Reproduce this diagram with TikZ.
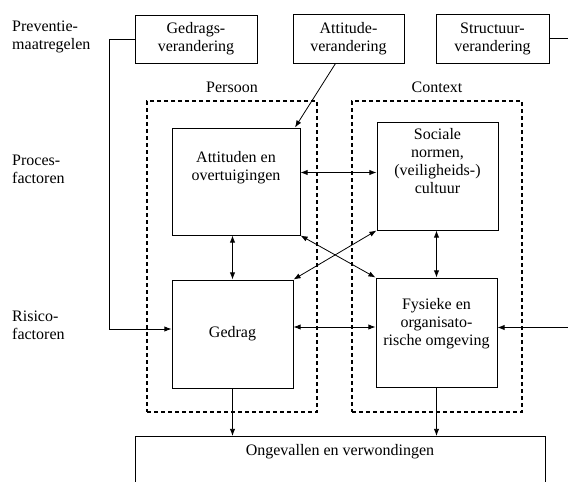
\documentclass[tikz,border=0pt]{standalone}
\usepackage{fontspec}
\setmainfont{Liberation Serif}
\usetikzlibrary{
    arrows.meta,
    positioning
}

\begin{document}
\begin{tikzpicture}[
        x=1pt,
        y=-1pt,
        font=\fontsize{16}{18}\selectfont,
        box/.style={
            rectangle,
            draw,
            line width=1pt,
            align=center,
            inner sep=2pt
        },
        group/.style={
            rectangle,
            draw,
            line width=1.1pt,
            dash pattern=on 4pt off 3pt
        },
        lbl/.style={
            align=left,
            anchor=north west,
            inner sep=0pt
        },
        line/.style={
            -{Latex[length=2.5mm]},
            line width=0.8pt
        },
        dline/.style={
            {Latex[length=2.5mm]}-{Latex[length=2.5mm]},
            line width=0.8pt
        }
    ]

    \clip (0,0) rectangle (568,482);

    % row labels
    \node[lbl] (preventie) at (12,21) {Preventie-\\maatregelen};
    \node[lbl] (proces) at (12,155) {Proces-\\factoren};
    \node[lbl] (risico) at (12,311) {Risico-\\factoren};

    % preventive measures
    \node[box, minimum width=122pt, minimum height=48pt] (gedragsv)
        at (196,39) {Gedrags-\\verandering};
    \node[box, minimum width=111pt, minimum height=49pt] (attitudev)
        at (348.5,38.5) {Attitude-\\verandering};
    \node[box, minimum width=113pt, minimum height=49pt] (structuurv)
        at (492.5,38.5) {Structuur-\\verandering};

    % groups
    \node[group, minimum width=170pt, minimum height=311pt] (persoon)
        at (232,256.5) {};
    \node[group, minimum width=170pt, minimum height=311pt] (context)
        at (437,256.5) {};
    \node[above=4pt of persoon] (persoonlbl) {Persoon};
    \node[above=4pt of context] (contextlbl) {Context};

    % factors
    \node[box, inner ysep=0pt, minimum width=128pt,
        text height=52pt, text depth=55pt] (attituden)
        at (236,181.5) {Attituden en\\overtuigingen};
    \node[box, inner ysep=0pt, minimum width=121pt,
        text height=71pt, text depth=37pt] (sociale)
        at (437.5,176) {Sociale\\normen,\\(veiligheids-)\\cultuur};
    \node[box, minimum width=121pt, minimum height=108pt] (gedrag)
        at (232.5,334) {Gedrag};
    \node[box, inner ysep=0pt, minimum width=121pt,
        text height=67pt, text depth=42pt] (fysieke)
        at (436.5,332.5) {Fysieke en\\organisato-\\rische omgeving};

    \node[box, anchor=north, minimum width=410pt,
        text height=17pt, text depth=50pt] (ongevallen)
        at (340,436) {Ongevallen en verwondingen};

    % measures to factors
    \draw[line] (gedragsv.west) -- ++(-25,0) |- ([yshift=5pt]gedrag.west);
    \draw[line] ([xshift=-13pt]attitudev.south)
        -- ([xshift=59pt]attituden.north);
    \draw[line] (structuurv.east) -- ++(40,0) |- ([yshift=5pt]fysieke.east);

    % interactions
    \draw[dline] ([yshift=9pt]attituden.east)
        -- ([yshift=9pt]attituden.east -| sociale.west);
    \draw[dline] (gedrag.north |- attituden.south) -- (gedrag.north);
    \draw[dline] (fysieke.north |- sociale.south) -- (fysieke.north);
    \draw[dline] (attituden.south east) -- (fysieke.north west);
    \draw[dline] (sociale.south west) -- (gedrag.north east);
    \draw[dline] ([yshift=7pt]gedrag.east)
        -- ([yshift=7pt]gedrag.east -| fysieke.west);

    % outcome
    \draw[line] (gedrag.south) -- (gedrag.south |- ongevallen.north);
    \draw[line] (fysieke.south) -- (fysieke.south |- ongevallen.north);

\end{tikzpicture}
\end{document}
